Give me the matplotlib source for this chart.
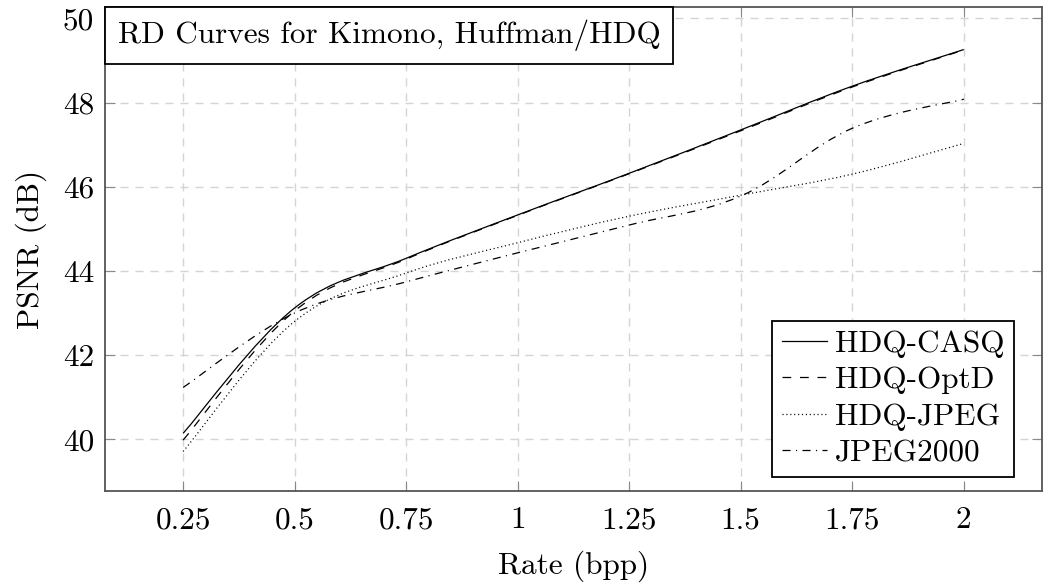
import matplotlib
matplotlib.use("Agg")
import matplotlib.pyplot as plt
from matplotlib.path import Path
from matplotlib.patches import PathPatch
from matplotlib.lines import Line2D
from matplotlib.offsetbox import AnchoredText

plt.rcParams["font.family"] = ["cmr10", "DejaVu Serif"]
plt.rcParams["mathtext.fontset"] = "cm"
plt.rcParams["axes.unicode_minus"] = False
plt.rcParams["lines.scale_dashes"] = False

rate = [0.25, 0.5, 0.75, 1.0, 1.25, 1.5, 1.75, 2.0]
casq = [40.14, 43.12, 44.30, 45.33, 46.32, 47.35, 48.39, 49.26]
optd = [39.98, 43.05, 44.28, 45.32, 46.31, 47.33, 48.37, 49.25]
hdq_jpeg = [39.71, 42.80, 43.95, 44.67, 45.30, 45.80, 46.30, 47.03]
jpeg2000 = [41.23, 43.00, 43.74, 44.43, 45.09, 45.78, 47.39, 48.08]

names = ["HDQ-CASQ", "HDQ-OptD", "HDQ-JPEG", "JPEG2000"]
series = [casq, optd, hdq_jpeg, jpeg2000]
styles = ["-", (0, (6.3, 6.3)), (0, (0.8, 2.0)), (0, (5.8, 3.9, 0.8, 3.9))]

xticks = [0.25, 0.5, 0.75, 1, 1.25, 1.5, 1.75, 2]
xticklabels = ["0.25", "0.5", "0.75", "1", "1.25", "1.5", "1.75", "2"]
yticks = [40, 42, 44, 46, 48, 50]

FS = 22.5


def smooth_path(xs, ys, f=0.18):
    # tikz-like "smooth" curve through the points
    pts = list(zip(xs, ys))
    n = len(pts)
    verts = [pts[0]]
    codes = [Path.MOVETO]
    for i in range(n - 1):
        a = pts[i - 1] if i > 0 else pts[i]
        b = pts[i]
        c = pts[i + 1]
        d = pts[i + 2] if i + 2 < n else pts[i + 1]
        c1 = (b[0] + f * (c[0] - a[0]), b[1] + f * (c[1] - a[1]))
        c2 = (c[0] - f * (d[0] - b[0]), c[1] - f * (d[1] - b[1]))
        verts += [c1, c2, c]
        codes += [Path.CURVE4] * 3
    return Path(verts, codes)


fig = plt.figure(figsize=(10.45, 5.87), dpi=100)
ax = fig.add_axes([0.1005, 0.1635, 0.8965, 0.8245])

handles = []
for name, vals, ls in zip(names, series, styles):
    patch = PathPatch(smooth_path(rate, vals), facecolor="none", edgecolor="black",
                      lw=0.9, linestyle=ls, zorder=3)
    ax.add_patch(patch)
    handles.append(Line2D([], [], color="black", lw=0.9, linestyle=ls, label=name))

ax.set_xlim(0.075, 2.175)
ax.set_ylim(38.77, 50.27)
ax.set_xticks(xticks)
ax.set_xticklabels(xticklabels)
ax.set_yticks(yticks)
ax.set_yticklabels([str(v) for v in yticks])
ax.grid(True, color="#d4d4d4", lw=1.0, linestyle=(0, (5.8, 5.0)))
ax.set_axisbelow(True)
ax.tick_params(direction="in", length=7, width=0.8, color="#8a8a8a",
               top=True, right=True, labelsize=FS)
ax.tick_params(axis="x", pad=11)
ax.tick_params(axis="y", pad=8)
for s in ax.spines.values():
    s.set_color("#555555")
    s.set_linewidth(1.3)

ax.set_xlabel("Rate (bpp)", fontsize=FS, labelpad=12)
ax.set_ylabel("PSNR (dB)", fontsize=FS, labelpad=11)

title = AnchoredText("RD Curves for Kimono, Huffman/HDQ", loc="upper left",
                     prop=dict(size=FS), pad=0.4, borderpad=0, frameon=True)
title.patch.set_boxstyle("square,pad=0")
title.patch.set_edgecolor("black")
title.patch.set_linewidth(1.3)
title.zorder = 5
ax.add_artist(title)

leg = ax.legend(handles=handles, loc="lower right", bbox_to_anchor=(0.97, 0.03),
                borderaxespad=0, fontsize=FS, fancybox=False, framealpha=1,
                edgecolor="black", handlelength=1.45, handletextpad=0.25,
                labelspacing=0.27, borderpad=0.3)
leg.get_frame().set_linewidth(1.3)
leg.set_zorder(6)

fig.savefig("out.png", dpi=100)
